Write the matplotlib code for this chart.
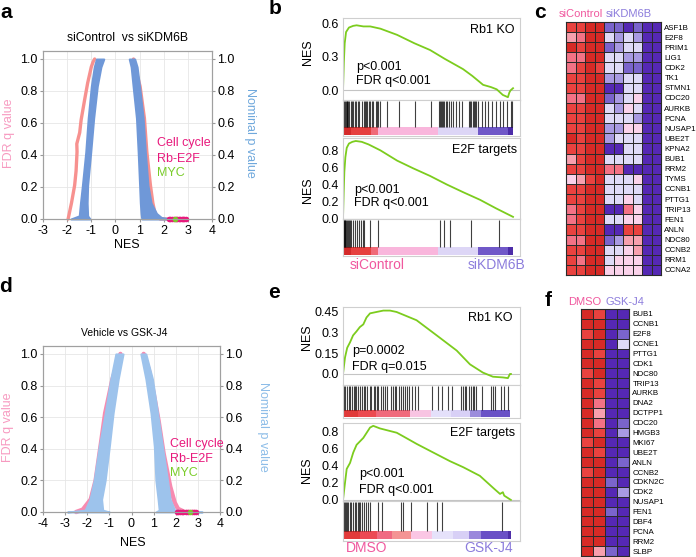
import matplotlib
matplotlib.use('Agg')
import matplotlib.pyplot as plt
from matplotlib.colors import ListedColormap

plt.rcParams['font.family'] = ['Liberation Sans', 'DejaVu Sans']
plt.rcParams['axes.unicode_minus'] = False

W, H = 696, 557

# ---------- panel a: siControl vs siKDM6B (edges of the point clouds) ----------
a_fdr_neg_q = [0.0, 0.1, 0.21, 0.3, 0.42, 0.47, 0.54, 0.62, 0.75, 0.85, 0.95, 0.98, 1.0]
a_fdr_neg_nes = [-1.96, -1.82, -1.69, -1.63, -1.59, -1.6, -1.48, -1.42, -1.27, -1.15, -1.0, -0.93, -0.86]
a_fdr_pos_q = [1.0, 0.9, 0.83, 0.63, 0.42, 0.21, 0.1, 0.05, 0.02, 0.0, 0.0]
a_fdr_pos_nes = [0.75, 0.9, 1.02, 1.2, 1.3, 1.45, 1.55, 1.62, 1.7, 1.85, 2.95]
a_p_neg_q = [0.0, 0.02, 0.1, 0.21, 0.42, 0.63, 0.83, 0.95, 1.0]
a_p_neg_lo = [-1.85, -1.5, -1.45, -1.37, -1.23, -1.13, -1.0, -0.88, -0.79]
a_p_neg_hi = [-1.05, -1.15, -1.17, -1.15, -1.02, -0.9, -0.75, -0.6, -0.48]
a_p_pos_q = [0.0, 0.01, 0.035, 0.1, 0.21, 0.42, 0.63, 0.83, 0.95, 1.0]
a_p_pos_lo = [1.1, 1.08, 1.06, 1.03, 1.0, 0.94, 0.87, 0.73, 0.65, 0.57]
a_p_pos_hi = [2.3, 1.9, 1.7, 1.48, 1.35, 1.24, 1.15, 1.0, 0.9, 0.8]
a_cell_nes = [2.2, 2.28, 2.35, 2.42, 2.5, 2.56, 2.62, 2.68, 2.74, 2.8, 2.86, 2.92]
a_myc_nes = [2.45]

# ---------- panel d: Vehicle vs GSK-J4 ----------
d_fdr_neg_q = [0.0, 0.015, 0.08, 0.2, 0.415, 0.625, 0.84, 1.0]
d_fdr_neg_nes = [-2.5, -2.2, -1.84, -1.62, -1.4, -1.19, -0.86, -0.5]
d_fdr_pos_q = [1.0, 0.9, 0.75, 0.58, 0.37, 0.16, 0.06, 0.02, 0.0, 0.0]
d_fdr_pos_nes = [0.55, 0.78, 1.0, 1.22, 1.45, 1.75, 1.95, 2.1, 2.4, 2.9]
d_p_neg_q = [0.0, 0.012, 0.08, 0.2, 0.415, 0.625, 0.84, 1.0]
d_p_neg_lo = [-2.9, -2.1, -1.88, -1.69, -1.46, -1.19, -0.94, -0.71]
d_p_neg_hi = [-1.0, -1.3, -1.35, -1.19, -1.0, -0.83, -0.6, -0.38]
d_p_pos_q = [1.0, 0.84, 0.625, 0.415, 0.2, 0.08, 0.012, 0.0]
d_p_pos_lo = [0.42, 0.65, 0.88, 1.03, 1.1, 1.2, 1.25, 1.1]
d_p_pos_hi = [0.65, 0.95, 1.18, 1.4, 1.63, 1.75, 1.95, 3.2]
d_cell_nes = [2.05, 2.12, 2.2, 2.28, 2.35, 2.45, 2.55, 2.75, 2.82, 2.9]
d_myc_nes = [2.65]

# ---------- GSEA running scores (rank out of 1000) ----------
b_rb1_rank = [0, 5, 10, 18, 35, 60, 80, 120, 160, 220, 318, 420, 512, 600, 706, 760, 824, 870, 904, 940, 970, 978, 985, 1000]
b_rb1_es = [0.0, 0.25, 0.42, 0.52, 0.56, 0.575, 0.58, 0.57, 0.57, 0.55, 0.495, 0.42, 0.36, 0.28, 0.19, 0.13, 0.05, 0.03, 0.01, -0.04, -0.06, -0.02, 0.0, 0.02]
b_rb1_hits = [3, 9, 15, 21, 26, 32, 38, 47, 53, 59, 68, 76, 88, 97, 112, 124, 129, 135, 144, 153, 159, 168,
              176, 194, 200, 206, 218, 259, 329, 424, 518, 565, 571, 576, 582, 588, 594, 603, 612, 624, 635,
              647, 665, 682, 700, 741, 747, 753, 762, 771, 776, 782, 794, 818, 835, 853, 876, 900, 924, 941,
              965, 988, 994]
b_e2f_rank = [0, 4, 8, 14, 22, 35, 55, 75, 110, 150, 220, 318, 412, 512, 610, 706, 806, 900, 1000]
b_e2f_es = [0.0, 0.3, 0.55, 0.72, 0.83, 0.88, 0.9, 0.91, 0.9, 0.87, 0.8, 0.68, 0.59, 0.5, 0.4, 0.31, 0.22, 0.12, 0.02]
b_e2f_hits = [0, 3, 6, 10, 14, 19, 24, 29, 33, 39, 48, 58, 72, 84, 92, 108, 118, 124, 157, 206, 569, 594, 628, 751, 916]

e_rb1_rank = [0, 12, 25, 42, 60, 81, 100, 121, 140, 161, 200, 240, 280, 319, 438, 558, 677, 756, 833, 893, 952, 982, 994, 1000]
e_rb1_es = [0.0, 0.12, 0.19, 0.23, 0.28, 0.31, 0.34, 0.36, 0.41, 0.44, 0.45, 0.46, 0.46, 0.45, 0.39, 0.28, 0.17, 0.07, 0.01, -0.02, -0.025, -0.03, 0.0, 0.0]
e_rb1_hits = [0, 6, 14, 26, 36, 44, 54, 63, 69, 79, 89, 99, 113, 125, 133, 145, 159, 169, 184, 192, 200, 208,
              224, 238, 248, 264, 288, 298, 307, 317, 331, 343, 357, 367, 379, 391, 411, 430, 446, 530, 565,
              589, 625, 651, 700, 714, 724, 734, 748, 760, 773, 783, 793, 827, 879, 892, 906, 938, 958, 982]
e_e2f_rank = [0, 12, 22, 42, 61, 81, 101, 121, 141, 161, 180, 220, 280, 320, 357, 439, 518, 637, 716, 815, 900, 935, 952, 960, 1000]
e_e2f_es = [0.0, 0.2, 0.36, 0.43, 0.55, 0.64, 0.68, 0.72, 0.78, 0.84, 0.86, 0.83, 0.8, 0.78, 0.74, 0.65, 0.57, 0.45, 0.38, 0.28, 0.13, 0.07, 0.09, 0.05, 0.0]
e_e2f_hits = [4, 10, 16, 24, 32, 40, 50, 60, 70, 80, 88, 96, 104, 116, 124, 137, 151, 161, 211, 231, 345,
              357, 406, 498, 562, 592, 944]

# ranked-list colour strips: (start rank, end rank, colour)
b_strip = [(0, 49, '#d42a2a'), (49, 167, '#e6403f'), (167, 206, '#f06a78'), (206, 559, '#f9b6dc'),
           (559, 794, '#ddd6f6'), (794, 970, '#7058c8'), (970, 1000, '#4c2ca8')]
e_rb1_strip = [(0, 90, '#e03a3a'), (90, 198, '#ec4a50'), (198, 397, '#f06a7c'), (397, 526, '#f8c4e2'),
               (526, 645, '#e4e0fa'), (645, 754, '#d8d0f6'), (754, 823, '#9c8cdc'), (823, 996, '#6a52c6')]
e_e2f_strip = [(0, 100, '#e23a3a'), (100, 201, '#ec4a55'), (201, 291, '#f06a82'), (291, 402, '#f49494'),
               (402, 532, '#fac6e4'), (532, 653, '#e6e2fa'), (653, 753, '#d8d0f6'), (753, 823, '#9a88dc'),
               (823, 984, '#6a50c6'), (984, 1000, '#4e2ea8')]

# ---------- heatmaps (0 = lowest / purple ... 8 = highest / red) ----------
heat_colors = ['#5528b4', '#7a64cc', '#a89ae2', '#dedaf7', '#fad2ea', '#f7a0ae', '#f37285', '#e9423f', '#d62a26']
c_genes = ['ASF1B', 'E2F8', 'PRIM1', 'LIG1', 'CDK2', 'TK1', 'STMN1', 'CDC20', 'AURKB', 'PCNA', 'NUSAP1',
           'UBE2T', 'KPNA2', 'BUB1', 'RRM2', 'TYMS', 'CCNB1', 'PTTG1', 'TRIP13', 'FEN1', 'ANLN', 'NDC80',
           'CCNB2', 'RRM1', 'CCNA2']
c_values = [
    [7, 7, 8, 8, 1, 1, 0, 1, 0, 0],
    [5, 6, 8, 8, 3, 2, 3, 2, 0, 0],
    [8, 7, 8, 8, 1, 2, 3, 3, 0, 0],
    [6, 6, 8, 8, 3, 3, 2, 2, 0, 0],
    [6, 7, 8, 7, 3, 3, 1, 1, 0, 0],
    [7, 7, 8, 8, 2, 2, 3, 3, 0, 0],
    [7, 7, 8, 8, 0, 0, 3, 3, 0, 0],
    [6, 6, 8, 8, 1, 2, 3, 4, 0, 0],
    [7, 7, 8, 8, 3, 2, 4, 3, 0, 0],
    [7, 7, 8, 8, 3, 3, 3, 2, 0, 0],
    [7, 7, 8, 8, 2, 2, 4, 4, 0, 0],
    [8, 7, 8, 8, 2, 3, 3, 3, 0, 0],
    [7, 7, 8, 8, 0, 0, 3, 3, 0, 0],
    [5, 7, 8, 8, 3, 3, 3, 3, 0, 0],
    [7, 7, 8, 8, 6, 6, 0, 0, 0, 0],
    [4, 5, 7, 8, 3, 3, 3, 4, 0, 0],
    [7, 7, 8, 8, 3, 3, 3, 3, 0, 0],
    [7, 7, 8, 8, 3, 3, 4, 3, 0, 0],
    [6, 7, 8, 8, 0, 0, 6, 4, 0, 0],
    [6, 7, 8, 8, 3, 3, 4, 4, 0, 0],
    [7, 7, 8, 8, 0, 0, 7, 7, 0, 0],
    [6, 6, 8, 8, 1, 2, 5, 5, 0, 0],
    [7, 7, 8, 8, 3, 3, 4, 5, 0, 0],
    [7, 6, 8, 8, 3, 4, 4, 4, 0, 0],
    [7, 7, 8, 8, 4, 4, 4, 4, 0, 0],
]
f_genes = ['BUB1', 'CCNB1', 'E2F8', 'CCNE1', 'PTTG1', 'CDK1', 'NDC80', 'TRIP13', 'AURKB', 'DNA2', 'DCTPP1',
           'CDC20', 'HMGB3', 'MKI67', 'UBE2T', 'ANLN', 'CCNB2', 'CDKN2C', 'CDK2', 'NUSAP1', 'FEN1', 'DBF4',
           'PCNA', 'RRM2', 'SLBP']
f_values = [
    [8, 7, 0, 0], [8, 8, 0, 0], [7, 8, 0, 1], [8, 8, 0, 3], [8, 7, 0, 0], [8, 8, 0, 0], [7, 8, 0, 0],
    [8, 7, 0, 0], [8, 7, 0, 0], [8, 6, 0, 0], [8, 5, 0, 0], [8, 6, 0, 1], [8, 7, 0, 2], [7, 8, 0, 0],
    [8, 7, 0, 0], [8, 8, 0, 1], [7, 8, 0, 0], [8, 8, 1, 0], [8, 8, 0, 2], [8, 8, 0, 0], [8, 8, 1, 0],
    [8, 8, 0, 0], [8, 8, 0, 0], [8, 8, 0, 0], [8, 5, 1, 0],
]

PINK_TXT = '#f0589e'
PURPLE_TXT = '#8c7cdc'
MAGENTA = '#e8197c'
GREEN = '#7acc2a'
CURVE = '#7ccc1e'

fig = plt.figure(figsize=(W / 100, H / 100), dpi=100)


def box(x0, y0, x1, y1):
    return fig.add_axes([x0 / W, 1 - y1 / H, (x1 - x0) / W, (y1 - y0) / H])


def txt(x, y, s, **kw):
    kw.setdefault('ha', 'center')
    kw.setdefault('va', 'center')
    fig.text(x / W, 1 - y / H, s, **kw)


def nes_panel(rect, xlim, fdr_sets, p_sets, cell, myc, pink, blue, pink_lw):
    ax = box(*rect)
    for q, nes in fdr_sets:
        ax.plot(nes, q, color=pink, lw=pink_lw, solid_capstyle='round', zorder=2, clip_on=False)
    for q, lo, hi in p_sets:
        ax.fill_betweenx(q, lo, hi, color=blue, lw=1.4, zorder=3, clip_on=False)
    ax.scatter(cell, [0] * len(cell), s=16, color=MAGENTA, lw=0, zorder=5, clip_on=False)
    ax.scatter(myc, [0] * len(myc), s=16, color=GREEN, lw=0, zorder=6, clip_on=False)
    ax.set_xlim(xlim)
    ax.set_ylim(0, 1.05)
    ax.set_xticks(range(xlim[0], xlim[1] + 1))
    ax.set_yticks([0, 0.2, 0.4, 0.6, 0.8, 1.0])
    ax.set_yticklabels(['0.0', '0.2', '0.4', '0.6', '0.8', '1.0'])
    ax.grid(True, color='#e6e6e6', lw=0.6)
    ax.set_axisbelow(True)
    ax.tick_params(labelsize=9, length=2.5, color='#999999', pad=1.5)
    for s in ax.spines.values():
        s.set_color('#a0a0a0')
    ax2 = ax.twinx()
    ax2.set_ylim(0, 1.05)
    ax2.set_yticks([0, 0.2, 0.4, 0.6, 0.8, 1.0])
    ax2.set_yticklabels(['0.0', '0.2', '0.4', '0.6', '0.8', '1.0'])
    ax2.tick_params(labelsize=9, length=2.5, color='#999999', pad=1.5)
    for s in ax2.spines.values():
        s.set_color('#a0a0a0')
    return ax


def gsea_panel(y0, y1, y2, ranks, es, hits, strip, ylim, yticks, ylabels, xmax):
    axc = box(343, y0, 520, y1)
    axc.axhline(0, color='#c4c4c4', lw=0.8)
    axc.plot(ranks, es, color=CURVE, lw=1.3)
    axc.set_xlim(0, xmax)
    axc.set_ylim(ylim)
    axc.set_xticks([])
    axc.set_yticks(yticks)
    axc.set_yticklabels(ylabels)
    axc.tick_params(labelsize=9, length=0, pad=3)
    axr = box(343, y1, 520, y2)
    axr.vlines(hits, 0.25, 0.97, color='k', lw=0.8, alpha=0.75)
    axr.broken_barh([(s0, s1 - s0) for s0, s1, _ in strip], (0.04, 0.2),
                    facecolors=[c for _, _, c in strip])
    axr.set_xlim(0, xmax)
    axr.set_ylim(0, 1)
    axr.set_xticks([])
    axr.set_yticks([])
    for a in (axc, axr):
        for s in a.spines.values():
            s.set_color('#cfcfcf')
            s.set_linewidth(0.8)


def heat_panel(rect, values, genes):
    ax = box(*rect)
    ax.pcolormesh(values, cmap=ListedColormap(heat_colors), vmin=-0.5, vmax=8.5,
                  edgecolors='#2a2a2a', linewidth=0.6)
    ax.set_ylim(len(genes), 0)
    ax.set_xlim(0, len(values[0]))
    ax.set_xticks([])
    ax.set_yticks([i + 0.5 for i in range(len(genes))])
    ax.set_yticklabels(genes, fontsize=5.7)
    ax.yaxis.tick_right()
    ax.tick_params(length=0, pad=2.5)
    for s in ax.spines.values():
        s.set_color('#2a2a2a')
        s.set_linewidth(0.8)


# ---- a ----
nes_panel((43, 51, 212, 219), (-3, 4),
          [(a_fdr_neg_q, a_fdr_neg_nes), (a_fdr_pos_q, a_fdr_pos_nes)],
          [(a_p_neg_q, a_p_neg_lo, a_p_neg_hi), (a_p_pos_q, a_p_pos_lo, a_p_pos_hi)],
          a_cell_nes, a_myc_nes, '#f7918f', '#6f98d8', 2.4)
txt(127, 38, 'siControl  vs siKDM6B', fontsize=8.7)
txt(127, 245, 'NES', fontsize=9)
txt(9, 133, 'FDR q value', fontsize=9, color='#f79ac0', rotation=90)
txt(250, 133, 'Nominal p value', fontsize=9, color='#6fa8dc', rotation=270)
txt(157, 143, 'Cell cycle', fontsize=9, color=MAGENTA, ha='left')
txt(157, 159, 'Rb-E2F', fontsize=9, color=MAGENTA, ha='left')
txt(157, 173, 'MYC', fontsize=9, color=GREEN, ha='left')

# ---- d ----
nes_panel((43, 346, 220, 512), (-4, 4),
          [(d_fdr_neg_q, d_fdr_neg_nes), (d_fdr_pos_q, d_fdr_pos_nes)],
          [(d_p_neg_q, d_p_neg_lo, d_p_neg_hi), (d_p_pos_q, d_p_pos_lo, d_p_pos_hi)],
          d_cell_nes, d_myc_nes, '#f78bb0', '#9dc3ec', 3.2)
txt(124, 333, 'Vehicle vs GSK-J4', fontsize=7.5)
txt(133, 543, 'NES', fontsize=9)
txt(8, 427, 'FDR q value', fontsize=9, color='#f79ac0', rotation=90)
txt(263, 427, 'Nominal p value', fontsize=9, color='#8dbde8', rotation=270)
txt(170, 444, 'Cell cycle', fontsize=9, color=MAGENTA, ha='left')
txt(170, 459, 'Rb-E2F', fontsize=9, color=MAGENTA, ha='left')
txt(170, 473, 'MYC', fontsize=9, color=GREEN, ha='left')

# ---- b ----
gsea_panel(18, 100, 136, b_rb1_rank, b_rb1_es, b_rb1_hits, b_strip, (-0.085, 0.645),
           [0, 0.3, 0.6], ['0.0', '0.3', '0.6'], 1041)
gsea_panel(138, 219, 256, b_e2f_rank, b_e2f_es, b_e2f_hits, b_strip, (-0.005, 0.945),
           [0, 0.2, 0.4, 0.6, 0.8], ['0.0', '0.2', '0.4', '0.6', '0.8'], 1041)
txt(308, 52, 'NES', fontsize=9, rotation=90)
txt(308, 190, 'NES', fontsize=9, rotation=90)
txt(514, 30, 'Rb1 KO', fontsize=9, ha='right')
txt(517, 150, 'E2F targets', fontsize=9, ha='right')
txt(356, 67, 'p<0.001', fontsize=9, ha='left')
txt(356, 81, 'FDR q<0.001', fontsize=9, ha='left')
txt(354, 190, 'p<0.001', fontsize=9, ha='left')
txt(354, 203, 'FDR q<0.001', fontsize=9, ha='left')
txt(377, 265, 'siControl', fontsize=10, color=PINK_TXT)
txt(497, 265, 'siKDM6B', fontsize=10, color=PURPLE_TXT)

# ---- e ----
gsea_panel(307, 385, 418, e_rb1_rank, e_rb1_es, e_rb1_hits, e_rb1_strip, (-0.08, 0.486),
           [0, 0.15, 0.3, 0.45], ['0.0', '0.15', '0.3', '0.45'], 1054)
gsea_panel(423, 501, 541, e_e2f_rank, e_e2f_es, e_e2f_hits, e_e2f_strip, (-0.012, 0.893),
           [0, 0.2, 0.4, 0.6, 0.8], ['0.0', '0.2', '0.4', '0.6', '0.8'], 1054)
txt(307, 337, 'NES', fontsize=9, rotation=90)
txt(307, 470, 'NES', fontsize=9, rotation=90)
txt(513, 318, 'Rb1 KO', fontsize=9, ha='right')
txt(515, 433, 'E2F targets', fontsize=9, ha='right')
txt(352, 351, 'p=0.0002', fontsize=9, ha='left')
txt(352, 367, 'FDR q=0.015', fontsize=9, ha='left')
txt(359, 474, 'p<0.001', fontsize=9, ha='left')
txt(359, 490, 'FDR q<0.001', fontsize=9, ha='left')
txt(367, 548, 'DMSO', fontsize=10, color=PINK_TXT)
txt(489, 548, 'GSK-J4', fontsize=10, color=PURPLE_TXT)

# ---- c / f ----
heat_panel((566, 22, 661, 275), c_values, c_genes)
txt(581, 14, 'siControl', fontsize=8, color=PINK_TXT)
txt(629, 14, 'siKDM6B', fontsize=8, color=PURPLE_TXT)
heat_panel((581, 309, 629, 556), f_values, f_genes)
txt(585, 302, 'DMSO', fontsize=8, color=PINK_TXT)
txt(625, 302, 'GSK-J4', fontsize=8, color=PURPLE_TXT)

# panel letters
for lx, ly, s in [(6, 12, 'a'), (275, 8, 'b'), (540, 13, 'c'),
                  (6, 287, 'd'), (274, 293, 'e'), (548, 300, 'f')]:
    txt(lx, ly, s, fontsize=15, fontweight='bold')

fig.savefig('out.png', dpi=100)
